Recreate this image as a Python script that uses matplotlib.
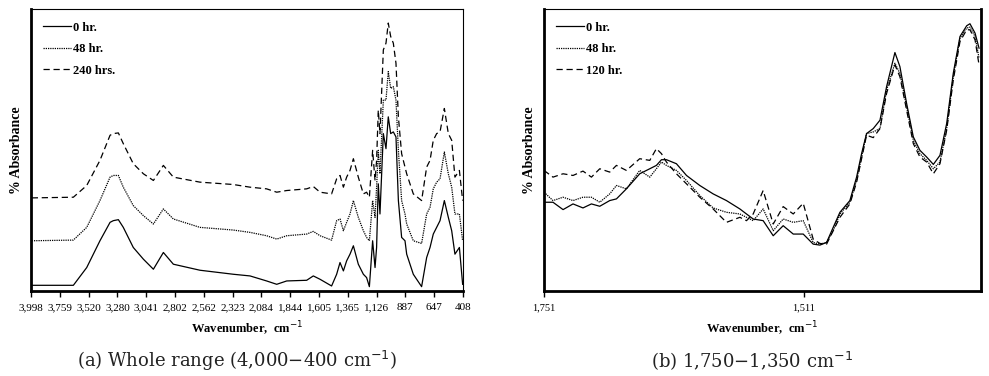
import matplotlib
matplotlib.use("Agg")
import matplotlib.pyplot as plt
import numpy as np

# ---------------- Data: panel (a) whole range ----------------
wn_a = [3992, 3646, 3535, 3425, 3341, 3314, 3272, 3231, 3148, 3064, 2981, 2898, 2815,
        2594, 2317, 2178, 2040, 1956, 1873, 1707, 1652, 1596, 1500, 1458, 1430, 1402,
        1375, 1347, 1319, 1278, 1236, 1209, 1186, 1159, 1139, 1126, 1112, 1098, 1070,
        1048, 1029, 1009, 987, 965, 945, 918, 890, 876, 821, 752, 710, 682, 655, 627,
        599, 563, 530, 502, 475, 438, 411]
a_0hr = [1.7, 1.7, 7.0, 15.0, 20.5, 21.0, 21.3, 19.0, 13.0, 9.5, 6.5, 11.5, 8.0,
         6.2, 5.0, 4.5, 3.0, 2.0, 3.0, 3.2, 4.5, 3.5, 1.5, 5.0, 8.5, 6.0,
         9.0, 11.0, 13.5, 8.0, 5.0, 4.0, 1.3, 15.0, 7.0, 13.0, 32.0, 23.0, 47.0,
         42.5, 52.0, 47.0, 47.5, 46.0, 27.0, 16.0, 15.0, 11.0, 5.0, 1.3, 10.0, 13.0, 17.0, 19.0,
         21.0, 27.0, 22.0, 18.0, 11.0, 13.0, 2.0]
a_48hr = [15.0, 15.2, 19.0, 27.0, 34.0, 34.5, 34.5, 31.0, 25.5, 22.5, 20.0, 24.5, 21.5,
          19.0, 18.2, 17.5, 16.5, 15.5, 16.5, 17.0, 17.8, 16.5, 15.2, 21.0, 21.5, 18.0,
          20.5, 23.0, 27.0, 22.0, 18.0, 16.0, 15.0, 27.0, 22.0, 31.0, 42.0, 35.0, 57.0,
          57.0, 65.5, 60.5, 61.0, 57.0, 42.0, 27.0, 23.0, 20.0, 15.0, 14.2, 23.0, 25.0, 30.5, 32.5,
          33.5, 41.5, 35.0, 31.0, 23.0, 23.0, 15.0]
a_240hr = [27.8, 28.0, 31.5, 39.0, 46.5, 47.0, 47.2, 44.0, 38.0, 35.0, 33.0, 37.5, 34.0,
           32.5, 31.8, 31.0, 30.5, 29.5, 30.0, 30.5, 31.2, 29.5, 29.0, 33.5, 34.5, 31.0,
           34.0, 36.0, 39.5, 34.0, 29.0, 29.5, 28.0, 42.0, 33.0, 39.0, 54.0, 47.0, 72.0,
           74.0, 80.0, 76.0, 74.0, 68.0, 52.0, 41.0, 37.0, 35.0, 29.0, 27.0, 37.0, 39.0, 45.0, 47.0,
           47.5, 54.5, 47.0, 45.0, 34.0, 36.0, 27.0]
ticks_a = ["3,998", "3,759", "3,520", "3,280", "3,041", "2,802", "2,562", "2,323",
           "2,084", "1,844", "1,605", "1,365", "1,126", "887", "647", "408"]
labels_a = ["0 hr.", "48 hr.", "240 hrs."]

# ---------------- Data: panel (b) 1,750-1,350 ----------------
wn_b = [1751.0, 1742.7, 1733.4, 1724.2, 1715.0, 1707.2, 1699.5, 1690.3, 1684.1, 1674.9,
        1662.6, 1653.3, 1647.2, 1642.5, 1637.9, 1628.7, 1619.4, 1607.1, 1594.8, 1582.5,
        1570.1, 1564.0, 1557.8, 1548.6, 1539.3, 1530.1, 1520.8, 1511.6, 1502.4, 1496.2,
        1490.0, 1483.9, 1477.7, 1468.5, 1462.3, 1457.7, 1453.1, 1446.9, 1440.7, 1434.6,
        1426.9, 1422.3, 1416.1, 1409.9, 1403.8, 1397.6, 1391.4, 1385.3, 1379.1, 1373.0,
        1366.8, 1360.6, 1357.6, 1352.9, 1349.2]
b_0hr = [26.5, 26.5, 24.3, 26.0, 24.8, 26.0, 25.3, 27.0, 27.5, 30.5,
         35.0, 36.5, 37.5, 39.2, 39.2, 38.0, 34.5, 31.5, 29.0, 27.0,
         24.5, 23.0, 21.5, 21.0, 16.5, 19.5, 17.0, 17.0, 14.0, 13.7,
         14.5, 19.0, 23.5, 27.0, 34.0, 41.0, 47.0, 48.5, 51.0, 61.0,
         71.2, 67.0, 56.0, 46.0, 42.0, 40.0, 37.8, 40.5, 50.0, 65.0,
         76.0, 79.2, 79.8, 77.0, 72.5]
b_48hr = [29.5, 27.0, 28.0, 27.0, 28.0, 28.0, 26.5, 29.0, 31.5, 30.5,
          36.0, 34.0, 36.5, 38.5, 37.5, 36.0, 33.0, 28.5, 24.8, 23.5,
          23.0, 22.0, 21.0, 24.5, 18.0, 21.5, 20.5, 21.0, 14.5, 14.0,
          14.5, 18.0, 23.0, 26.5, 33.0, 40.0, 47.0, 47.5, 48.5, 60.0,
          68.0, 65.0, 55.0, 45.0, 41.0, 39.0, 36.5, 38.5, 48.5, 64.0,
          75.5, 78.5, 78.8, 76.0, 69.5]
b_120hr = [36.0, 34.0, 35.0, 34.5, 35.8, 34.0, 36.5, 35.5, 37.5, 36.0,
           39.5, 39.0, 42.5, 41.0, 38.5, 35.0, 32.0, 28.0, 24.5, 20.5,
           22.0, 21.0, 23.0, 30.0, 20.0, 25.2, 23.0, 26.2, 15.5, 14.2,
           14.0, 18.0, 22.0, 26.0, 32.5, 39.5, 46.5, 45.8, 48.5, 59.0,
           67.5, 64.0, 54.0, 44.0, 40.0, 38.5, 35.0, 38.0, 48.0, 63.0,
           74.5, 78.0, 78.0, 75.0, 67.5]
ticks_b = ["1,751", "1,511"]
labels_b = ["0 hr.", "48 hr.", "120 hr."]

# ---------------- Figure ----------------
W, H = 989, 376
fig = plt.figure(figsize=(W / 100, H / 100), dpi=100)
serif = ["Liberation Serif", "DejaVu Serif"]

styles = [dict(linestyle="-", lw=0.9),
          dict(linestyle=(0, (1, 0.8)), lw=0.9),
          dict(linestyle=(0, (5, 3)), lw=0.9)]


def fmt_axes(ax, tick_pos, tick_lab, xlim, tick_fs):
    ax.set_xlim(*xlim)
    ax.set_ylim(0, 84.2)
    ax.set_yticks([])
    ax.set_xticks(tick_pos)
    ax.set_xticklabels(tick_lab, fontfamily=serif, fontsize=tick_fs)
    ax.tick_params(axis="x", direction="out", length=4, width=1, pad=5)
    for s in ["left", "bottom"]:
        ax.spines[s].set_linewidth(2)
    ax.spines["top"].set_linewidth(0.8)
    ax.set_ylabel("% Absorbance", fontfamily=serif, fontweight="bold", fontsize=10, labelpad=6)
    ax.set_xlabel("Wavenumber,  cm$^{-1}$", fontfamily=serif, fontweight="bold", fontsize=9, labelpad=5)
    ax.legend(loc="upper left", frameon=False, handlelength=2.2, handletextpad=0.15,
              labelspacing=0.75, prop=dict(family=serif, weight="bold", size=9),
              borderaxespad=0.4, bbox_to_anchor=(0.005, 0.99))


# Panel (a)
ax1 = fig.add_axes([31 / W, 1 - 291 / H, (463 - 31) / W, (291 - 9) / H])
for y, lab, st in zip([a_0hr, a_48hr, a_240hr], labels_a, styles):
    ax1.plot(wn_a, y, color="black", label=lab, **st)
pos_a = [3998 - k * (3998 - 408) / 15 for k in range(16)]
fmt_axes(ax1, pos_a, ticks_a, (3998, 408), 8)
ax1.spines["right"].set_linewidth(0.8)

# Panel (b)
ax2 = fig.add_axes([544 / W, 1 - 291 / H, (981 - 544) / W, (291 - 9) / H])
for y, lab, st in zip([b_0hr, b_48hr, b_120hr], labels_b, styles):
    ax2.plot(wn_b, y, color="black", label=lab, **st)
fmt_axes(ax2, [1751, 1511], ticks_b, (1751, 1347.4), 7.5)
ax2.spines["right"].set_linewidth(2)

cap_font = ["DejaVu Serif"]
fig.text(237 / W, 1 - 361 / H, "(a) Whole range (4,000\u2212400 cm$^{-1}$)", ha="center", va="center",
         fontfamily=cap_font, fontsize=13, color="#222222")
fig.text(752 / W, 1 - 361 / H, "(b) 1,750\u22121,350 cm$^{-1}$", ha="center", va="center",
         fontfamily=cap_font, fontsize=13, color="#222222")

fig.savefig("out.png", dpi=100)
